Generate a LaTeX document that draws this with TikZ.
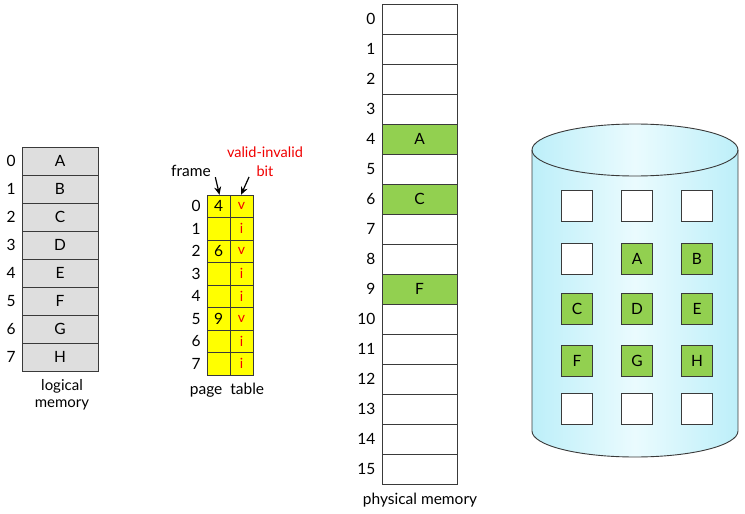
\documentclass[tikz,border=0pt]{standalone}
\usepackage{fontspec}
\setmainfont{Lato}
\usepackage{xcolor}
\usepackage{tikz}
\usetikzlibrary{arrows.meta,positioning}
\definecolor{pageGreen}{HTML}{92D050}
\definecolor{tableYellow}{HTML}{FFFF00}
\definecolor{logGray}{HTML}{DEDEDE}
\definecolor{diskCyan}{HTML}{BDEFF9}
\definecolor{diskPale}{HTML}{EAFBFE}
\definecolor{bitRed}{HTML}{F00000}
\definecolor{edgeGray}{HTML}{3A3A3A}

\begin{document}
\begin{tikzpicture}[x=1pt,y=-1pt,font=\fontsize{15.5}{18}\selectfont,
  logcell/.style={draw=edgeGray,fill=logGray,minimum width=76pt,minimum height=28pt,inner sep=0pt},
  ptcell/.style={draw=edgeGray,fill=tableYellow,minimum width=23pt,minimum height=22.5pt,inner sep=0pt},
  pmcell/.style={draw=edgeGray,minimum width=75pt,minimum height=30pt,inner sep=0pt},
  diskbox/.style={draw=edgeGray,minimum size=31pt,inner sep=0pt},
  redlbl/.style={text=bitRed,font=\fontsize{14.5}{16}\selectfont},
  ptarrow/.style={-{Stealth[length=8pt,width=7pt]},line width=1.2pt}]
\useasboundingbox (0,0) rectangle (745,514);

% logical memory
\foreach \i/\lab in {0/A,1/B,2/C,3/D,4/E,5/F,6/G,7/H}{
  \node[logcell] (lm\i) at (60,{161+28*\i}) {\lab};
  \node (lmn\i) at (11,{161+28*\i}) {\i};
}
\node[align=center,font=\fontsize{15}{16.5}\selectfont] (lmcap) at (62,395) {logical\\memory};

% page table
\foreach \i/\fr/\vb in {0/4/v,1//i,2/6/v,3//i,4//i,5/9/v,6//i,7//i}{
  \node[ptcell] (pf\i) at (218.5,{206.25+22.5*\i}) {\fr};
  \node[ptcell,text=bitRed,font=\fontsize{14}{16}\selectfont] (pv\i) at (241.5,{206.25+22.5*\i}) {\vb};
  \node (ptn\i) at (196,{206.25+22.5*\i}) {\i};
}
\node (framelbl) at (191,171) {frame};
\node[redlbl] (validlbl) at (265,152) {valid-invalid};
\node[redlbl] (bitlbl) at (265,171) {bit};
\draw[ptarrow] ([shift={(1,-3)}]framelbl.south east) -- ([xshift=1]pf0.north);
\draw[ptarrow] ([shift={(-4,-3)}]bitlbl.south west) -- ([xshift=-0.5]pv0.north);
\node (ptcap) at (227,390) {page\ \ table};

% physical memory
\foreach \i/\lab/\col in {0//white,1//white,2//white,3//white,4/A/pageGreen,5//white,
  6/C/pageGreen,7//white,8//white,9/F/pageGreen,10//white,11//white,12//white,
  13//white,14//white,15//white}{
  \node[pmcell,fill=\col] (pm\i) at (419.5,{19+30*\i}) {\lab};
  \node[anchor=east] (pmn\i) at (379,{19+30*\i}) {\i};
}
\node (pmcap) at (420,500) {physical memory};

% backing store
\shade[left color=diskCyan,right color=diskCyan,middle color=diskPale]
  (532,150) -- (532,431) arc[start angle=180,end angle=0,x radius=103,y radius=26]
  -- (738,150) -- cycle;
\shade[left color=diskCyan,right color=diskCyan,middle color=diskPale]
  (635,150) ellipse[x radius=103,y radius=26];
\draw[edgeGray,line width=0.9pt] (532,150) -- (532,431)
  arc[start angle=180,end angle=0,x radius=103,y radius=26] -- (738,150);
\draw[edgeGray,line width=0.9pt] (635,150) ellipse[x radius=103,y radius=26];
\foreach \c/\y/\lab/\col in {0/206//white,1/206//white,2/206//white,
  0/259//white,1/259/A/pageGreen,2/259/B/pageGreen,
  0/309/C/pageGreen,1/309/D/pageGreen,2/309/E/pageGreen,
  0/361/F/pageGreen,1/361/G/pageGreen,2/361/H/pageGreen,
  0/409//white,1/409//white,2/409//white}{
  \node[diskbox,fill=\col] (dk\c\y) at ({577+60*\c},\y) {\lab};
}
\end{tikzpicture}
\end{document}
